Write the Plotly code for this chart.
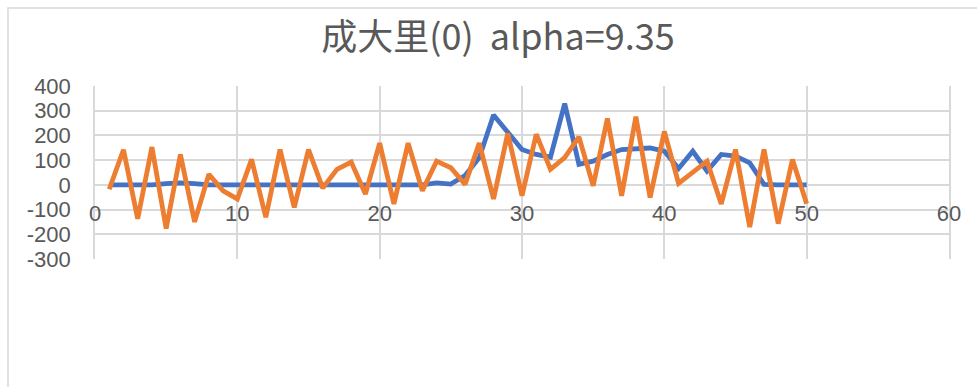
import plotly.graph_objects as go

# Series values by index 1..50
x_vals = list(range(1, 51))

blue_vals = [0, 0, 0, 0, 5, 8, 5, 0, 0, 0,
             0, 0, 0, 0, 0, 0, 0, 0, 0, 0,
             0, 0, 0, 8, 3, 38, 110, 283, 209, 143,
             123, 112, 329, 83, 96, 123, 143, 145, 149, 136,
             66, 136, 56, 123, 116, 89, 2, 0, 0, 0]

orange_vals = [-18, 142, -137, 153, -177, 123, -150, 43, -24, -57,
               103, -131, 143, -91, 143, -13, 63, 92, -37, 169,
               -77, 169, -24, 96, 69, 2, 169, -57, 209, -44,
               205, 63, 110, 194, -4, 269, -44, 276, -51, 216,
               6, 49, 96, -77, 143, -171, 143, -157, 103, -76]

x_ticks = [0, 10, 20, 30, 40, 50, 60]
y_ticks = [400, 300, 200, 100, 0, -100, -200, -300]

title_text = "成大里(0)  alpha=9.35"

BLUE = "#4472C4"
ORANGE = "#ED7D31"
GRID = "#d9d9d9"
TEXT = "#595959"

W, H = 977, 387
L, R, T, B = 95, 28, 86, 128

fig = go.Figure()
fig.add_trace(go.Scatter(x=x_vals, y=blue_vals, mode="lines",
                         line=dict(color=BLUE, width=4.8), showlegend=False))
fig.add_trace(go.Scatter(x=x_vals, y=orange_vals, mode="lines",
                         line=dict(color=ORANGE, width=4.8), showlegend=False))

y_lo, y_hi = -300, 400
zero_frac = (0 - y_lo) / (y_hi - y_lo)

fig.update_layout(
    width=W, height=H,
    margin=dict(l=L, r=R, t=T, b=B, pad=0),
    paper_bgcolor="white",
    plot_bgcolor="white",
    font=dict(family="Liberation Sans, Arial, sans-serif", color=TEXT),
    title=dict(text=title_text, x=498 / W, xanchor="center",
               y=1 - 37 / H, yanchor="middle",
               font=dict(family="Noto Sans CJK SC, Liberation Sans, sans-serif",
                         size=36, color=TEXT)),
    xaxis=dict(range=[0, 60], tickvals=x_ticks, ticktext=[str(v) for v in x_ticks],
               showgrid=True, gridcolor=GRID, gridwidth=1.5,
               zeroline=False, showline=False, ticks="",
               anchor="free", position=zero_frac,
               ticklabelstandoff=13,
               tickfont=dict(size=22, color=TEXT)),
    yaxis=dict(range=[y_lo, y_hi], tickvals=y_ticks, ticktext=[str(v) for v in y_ticks],
               showgrid=True, gridcolor=GRID, gridwidth=1.5,
               zeroline=False, showline=True, mirror=True, linecolor=GRID, linewidth=1.5,
               ticks="", ticklabelstandoff=18,
               tickfont=dict(size=22, color=TEXT)),
)

# Outer chart frame (top and left edges visible)
pw, ph = W - L - R, H - T - B
fig.add_shape(type="rect", xref="paper", yref="paper",
              x0=(8 - L) / pw, x1=(W + 20 - L) / pw,
              y0=-(H + 20 - (H - B)) / ph, y1=((H - B) - 8) / ph,
              line=dict(color=GRID, width=1.5), fillcolor="rgba(0,0,0,0)",
              layer="below")

fig.write_html("out.html")
